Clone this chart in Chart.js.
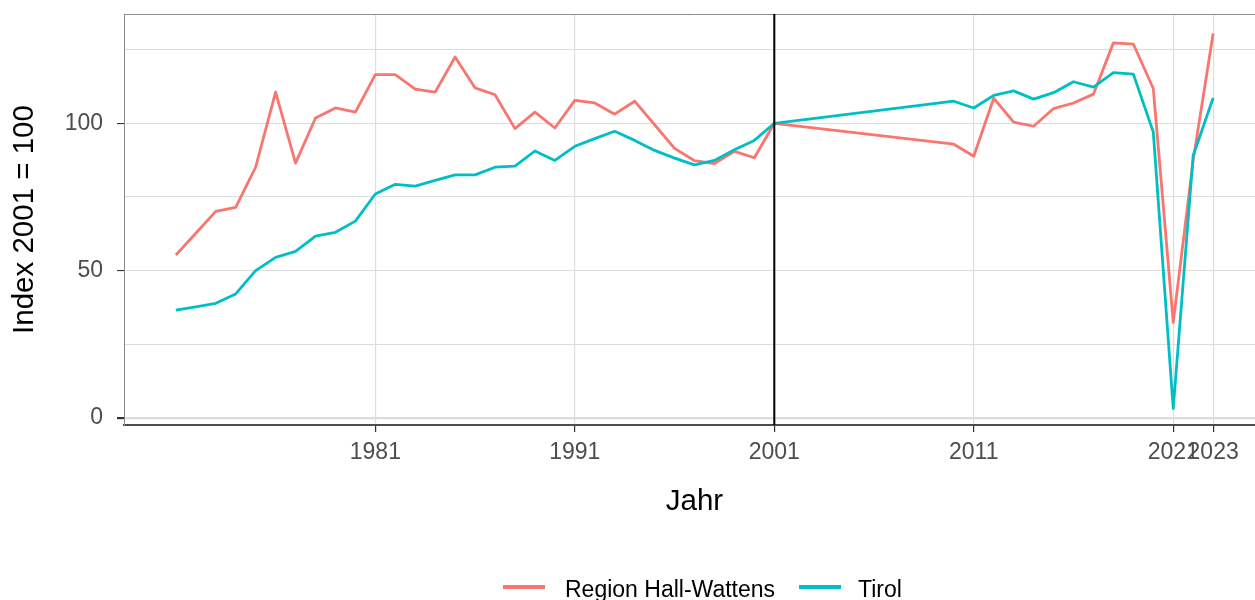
<!DOCTYPE html>
<html><head><meta charset="utf-8">
<script src="https://cdn.jsdelivr.net/npm/chart.js@4/dist/chart.umd.min.js"></script>
<style>
html,body{margin:0;padding:0;background:#fff;overflow:hidden;width:1255px;height:600px;}
#wrap{position:relative;width:1255px;height:600px;overflow:hidden;}
canvas{position:absolute;left:0;top:0;}
.legtxt{position:absolute;font-family:"Liberation Sans",Arial,sans-serif;font-size:23px;line-height:23px;color:#000;white-space:nowrap;}
.legkey{position:absolute;height:4px;}
</style></head><body>
<div id="wrap"><canvas id="c" width="1268" height="600" style="width:1268px;height:600px"></canvas>
<div id="legend"></div></div>
<script>
// ---- data ----
const years = [1971,1972,1973,1974,1975,1976,1977,1978,1979,1980,
               1981,1982,1983,1984,1985,1986,1987,1988,1989,1990,
               1991,1992,1993,1994,1995,1996,1997,1998,1999,2000,
               2001,2010,2011,2012,2013,2014,2015,2016,2017,2018,
               2019,2020,2021,2022,2023];
const hallWattens = [55.3,62.7,70.1,71.5,85.1,110.6,86.5,101.8,105.2,103.8,
                     116.5,116.5,111.6,110.6,122.5,112.0,109.7,98.2,103.8,98.4,
                     107.8,106.9,103.1,107.5,99.5,91.5,87.3,86.3,90.5,88.3,
                     100,92.9,88.8,108.5,100.4,99.0,105.0,106.9,109.9,127.3,
                     126.9,111.8,32.4,87.5,130.5];
const tirol = [36.6,37.7,38.9,42.1,50.0,54.5,56.5,61.7,63.0,66.8,
               76.0,79.3,78.7,80.6,82.5,82.5,85.1,85.5,90.6,87.4,
               92.2,94.8,97.3,94.2,90.8,88.2,85.9,87.4,91.0,94.2,
               100,107.5,105.2,109.5,111.0,108.2,110.4,114.1,112.3,117.2,
               116.7,97.0,3.2,89.1,108.6];
const seriesNames = ['Region Hall-Wattens','Tirol'];
const seriesColors = ['#F8766D','#00BFC4'];
const xTickValues = [1981,1991,2001,2011,2021,2023];
const yTickValues = [0,25,50,75,100,125];
const yLabelValues = [0,50,100];
const referenceYear = 2001;
const xTitle = 'Jahr';
const yTitle = 'Index 2001 = 100';

const FAMILY = '"Liberation Sans", Arial, sans-serif';

const frame = {
  id: 'frame',
  beforeDatasetsDraw(chart) {
    const {ctx, chartArea: a} = chart;
    ctx.save();
    ctx.strokeStyle = '#8C8C8C';
    ctx.lineWidth = 1;
    ctx.beginPath();
    ctx.moveTo(a.left, a.top + 0.5);
    ctx.lineTo(a.right, a.top + 0.5);
    ctx.moveTo(a.right - 0.5, a.top);
    ctx.lineTo(a.right - 0.5, a.bottom);
    ctx.stroke();
    ctx.restore();
  }
};
const refLine = {
  id: 'refLine',
  afterDatasetsDraw(chart) {
    const {ctx, chartArea: a, scales} = chart;
    const x = scales.x.getPixelForValue(referenceYear);
    ctx.save();
    ctx.strokeStyle = '#000';
    ctx.lineWidth = 2;
    ctx.beginPath();
    ctx.moveTo(x, a.top);
    ctx.lineTo(x, a.bottom);
    ctx.stroke();
    ctx.restore();
  }
};

const seriesData = [hallWattens, tirol];
new Chart(document.getElementById('c'), {
  type: 'line',
  data: {
    datasets: seriesNames.map((name, k) => ({
      label: name,
      data: years.map((yr, i) => ({x: yr, y: seriesData[k][i]})),
      borderColor: seriesColors[k],
      backgroundColor: seriesColors[k],
      borderWidth: 2.8,
      borderJoinStyle: 'round',
      pointRadius: 0,
      tension: 0,
      fill: false,
      order: k === 0 ? 1 : 0
    }))
  },
  options: {
    responsive: false,
    animation: false,
    devicePixelRatio: 1,
    layout: {padding: {top: 14, right: 3, bottom: 75, left: 0}},
    plugins: {legend: {display: false}, tooltip: {enabled: false}},
    scales: {
      x: {
        type: 'linear', min: 1968.4, max: 2025.6,
        afterBuildTicks: s => { s.ticks = xTickValues.map(v => ({value: v})); },
        afterFit: s => { s.height = 100; s.paddingLeft = 0; s.paddingRight = 0; },
        ticks: {autoSkip: false, maxRotation: 0, minRotation: 0, padding: 7,
                color: '#4D4D4D', font: {family: FAMILY, size: 23},
                callback: v => String(v)},
        grid: {color: '#DEDEDE', lineWidth: 1.2, tickLength: 7, tickColor: '#333333'},
        border: {display: true, color: '#4D4D4D', width: 2},
        title: {display: true, text: xTitle, color: '#000',
                font: {family: FAMILY, size: 29.5}, padding: {top: 0, bottom: 5}}
      },
      y: {
        type: 'linear', min: -2.4, max: 137.1,
        afterBuildTicks: s => { s.ticks = yTickValues.map(v => ({value: v})); },
        afterFit: s => { s.width = 124; s.paddingTop = 0; s.paddingBottom = 0; },
        ticks: {padding: 14, color: '#4D4D4D', font: {family: FAMILY, size: 23},
                callback: v => yLabelValues.includes(v) ? String(v) : ''},
        grid: {
          color: '#DCDCDC',
          lineWidth: c => (c.tick && c.tick.value === 0) ? 2.2 : 1.1,
          tickLength: 7,
          tickColor: c => (c.tick && yLabelValues.includes(c.tick.value)) ? '#333333' : 'rgba(0,0,0,0)'
        },
        border: {display: true, color: '#8C8C8C', width: 1},
        title: {display: true, text: yTitle, color: '#000',
                font: {family: FAMILY, size: 29.5}, padding: {top: 7, bottom: 0}}
      }
    }
  },
  plugins: [frame, refLine]
});

// ---- legend (HTML text) ----
const leg = document.getElementById('legend');
const legItems = [{key: 503, text: 565}, {key: 799, text: 858}];
seriesNames.forEach((name, k) => {
  const key = document.createElement('div');
  key.className = 'legkey';
  key.style.left = legItems[k].key + 'px';
  key.style.width = '42px';
  key.style.top = '585px';
  key.style.background = seriesColors[k];
  leg.appendChild(key);
  const t = document.createElement('div');
  t.className = 'legtxt';
  t.style.left = legItems[k].text + 'px';
  t.style.top = '578px';
  t.textContent = name;
  leg.appendChild(t);
});
</script>
</body></html>
